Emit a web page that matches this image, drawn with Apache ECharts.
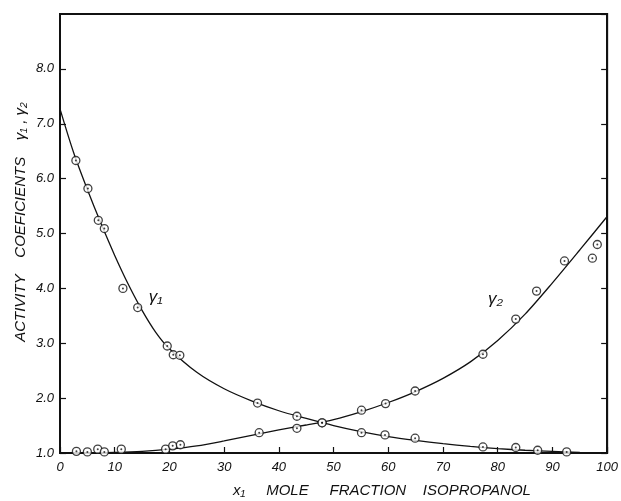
<!DOCTYPE html>
<html>
<head>
<meta charset="utf-8">
<script src="https://cdn.jsdelivr.net/npm/echarts@6/dist/echarts.min.js"></script>
<style>
  html, body { margin: 0; padding: 0; background: #fff; }
  #chart { width: 621px; height: 501px; }
</style>
</head>
<body>
<div id="chart"></div>
<script>
// measured points, gamma 1 (isopropanol)
var g1X = [2.9, 5.1, 7.0, 8.1, 11.5, 14.2, 19.6, 20.7, 21.9, 36.1, 43.3, 47.9, 55.1, 59.4, 64.9, 77.3, 83.3, 87.3, 92.6];
var g1Y = [6.33, 5.82, 5.24, 5.09, 4.0, 3.65, 2.95, 2.79, 2.78, 1.91, 1.67, 1.55, 1.37, 1.33, 1.27, 1.11, 1.10, 1.05, 1.02];
// measured points, gamma 2
var g2X = [3.0, 5.0, 6.9, 8.1, 11.2, 19.3, 20.6, 22.0, 36.4, 43.3, 47.9, 55.1, 59.5, 64.9, 77.3, 83.3, 87.1, 92.2, 97.3, 98.2];
var g2Y = [1.03, 1.02, 1.07, 1.02, 1.07, 1.07, 1.13, 1.15, 1.37, 1.45, 1.55, 1.78, 1.90, 2.13, 2.80, 3.44, 3.95, 4.50, 4.55, 4.80];
// fitted curves
var curve1X = [0, 2.5, 5, 7.5, 10, 12.5, 15, 17.5, 20, 25, 30, 35, 40, 45, 50, 55, 60, 65, 70, 75, 80, 85, 90, 95];
var curve1Y = [7.27, 6.47, 5.8, 5.18, 4.6, 4.07, 3.6, 3.2, 2.9, 2.47, 2.17, 1.95, 1.77, 1.63, 1.5, 1.39, 1.3, 1.23, 1.17, 1.12, 1.08, 1.05, 1.03, 1.01];
var curve2X = [0, 5, 10, 15, 20, 25, 30, 35, 40, 45, 50, 55, 60, 65, 70, 75, 80, 85, 90, 95, 100];
var curve2Y = [1.0, 1.0, 1.01, 1.03, 1.07, 1.13, 1.22, 1.32, 1.42, 1.51, 1.61, 1.75, 1.92, 2.12, 2.36, 2.66, 3.05, 3.53, 4.1, 4.7, 5.31];
var xTicks = [0, 10, 20, 30, 40, 50, 60, 70, 80, 90, 100];
var yTicks = [1, 2, 3, 4, 5, 6, 7, 8];

function pairs(xs, ys) {
    return xs.map(function (x, i) { return [x, ys[i]]; });
}

var font = 'Liberation Sans, DejaVu Sans, sans-serif';
var chart = echarts.init(document.getElementById('chart'), null, { renderer: 'canvas' });

var ringStyle = { color: '#fff', borderColor: '#111', borderWidth: 1.3 };
var noteLabel = { show: true, position: 'inside', color: '#111', fontSize: 17, fontStyle: 'italic', fontFamily: font };

var option = {
    backgroundColor: '#fff',
    animation: false,
    grid: {
        left: 60, right: 11, top: 14, bottom: 48,
        show: true, borderColor: '#111', borderWidth: 2, backgroundColor: 'transparent'
    },
    xAxis: {
        type: 'value', min: 0, max: 100, interval: 10,
        axisLine: { lineStyle: { color: '#111', width: 2 } },
        axisTick: { inside: true, length: 6, lineStyle: { color: '#111', width: 1.2 },
            customValues: xTicks },
        axisLabel: { color: '#111', fontSize: 13, fontStyle: 'italic', fontFamily: font, margin: 8,
            customValues: xTicks },
        splitLine: { show: false }
    },
    yAxis: [{
        type: 'value', min: 1, max: 9, interval: 1,
        axisLine: { lineStyle: { color: '#111', width: 2 } },
        axisTick: { inside: true, length: 6, lineStyle: { color: '#111', width: 1.2 },
            customValues: yTicks },
        axisLabel: { color: '#111', fontSize: 13, fontStyle: 'italic', fontFamily: font, margin: 6,
            customValues: yTicks,
            formatter: function (v) { return v.toFixed(1); } },
        splitLine: { show: false }
    }, {
        type: 'value', min: 1, max: 9, interval: 1, position: 'right',
        axisLine: { show: true, lineStyle: { color: '#111', width: 2 } },
        axisTick: { show: true, inside: true, length: 6, lineStyle: { color: '#111', width: 1.2 } },
        axisLabel: { show: false },
        splitLine: { show: false }
    }],
    graphic: [
        {
            type: 'text', x: 21, y: 222, rotation: Math.PI / 2,
            style: {
                text: 'ACTIVITY    COEFICIENTS    γ\u2081 , γ\u2082',
                fill: '#111', font: 'italic 15px ' + font,
                textAlign: 'center', textVerticalAlign: 'middle'
            }
        },
        {
            type: 'text', x: 382, y: 491,
            style: {
                text: 'x\u2081     MOLE     FRACTION    ISOPROPANOL',
                fill: '#111', font: 'italic 15px ' + font,
                textAlign: 'center', textVerticalAlign: 'middle'
            }
        }
    ],
    series: [
        {
            name: 'curve1', type: 'line', smooth: 0.3, showSymbol: false,
            data: pairs(curve1X, curve1Y),
            lineStyle: { color: '#111', width: 1.3 },
            markPoint: {
                symbol: 'circle', symbolSize: 1, itemStyle: { color: 'transparent' },
                label: noteLabel,
                data: [{ coord: [17.5, 3.84], value: 'γ\u2081' }]
            }
        },
        {
            name: 'curve2', type: 'line', smooth: 0.3, showSymbol: false,
            data: pairs(curve2X, curve2Y),
            lineStyle: { color: '#111', width: 1.3 },
            markPoint: {
                symbol: 'circle', symbolSize: 1, itemStyle: { color: 'transparent' },
                label: noteLabel,
                data: [{ coord: [79.6, 3.8], value: 'γ\u2082' }]
            }
        },
        { name: 'g1', type: 'scatter', symbol: 'circle', symbolSize: 8, data: pairs(g1X, g1Y), itemStyle: ringStyle, z: 3 },
        { name: 'g2', type: 'scatter', symbol: 'circle', symbolSize: 8, data: pairs(g2X, g2Y), itemStyle: ringStyle, z: 3 },
        { name: 'g1dot', type: 'scatter', symbolSize: 2, data: pairs(g1X, g1Y), itemStyle: { color: '#111' }, z: 4 },
        { name: 'g2dot', type: 'scatter', symbolSize: 2, data: pairs(g2X, g2Y), itemStyle: { color: '#111' }, z: 4 }
    ]
};

chart.setOption(option);
</script>
</body>
</html>
